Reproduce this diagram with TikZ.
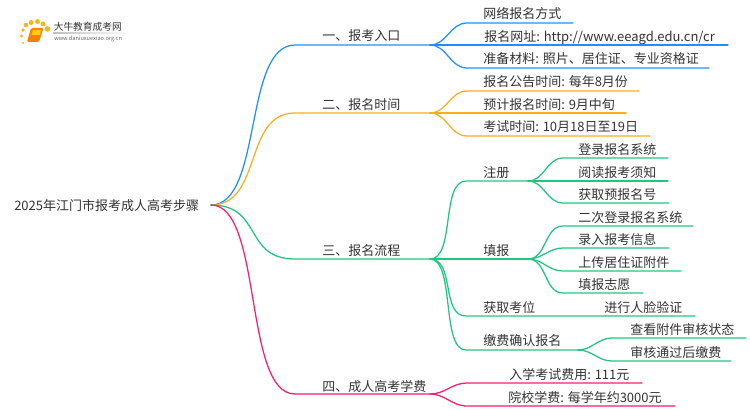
\documentclass[tikz,border=0pt]{standalone}
\usepackage{fontspec}
\setmainfont{Noto Sans CJK SC}
\definecolor{branchA}{HTML}{1E90FF}
\definecolor{branchB}{HTML}{F9AE1C}
\definecolor{branchC}{HTML}{1FC77F}
\definecolor{branchD}{HTML}{FB1C74}
\definecolor{inktext}{HTML}{333333}
\tikzset{
  label/.style={inner sep=0pt,anchor=base west,text=inktext,font=\fontsize{9.75pt}{9.75pt}\selectfont},
  link/.style={line width=0.95pt,line cap=round},
  swing/.style={out=0,in=180,distance=39pt},
  drop/.style={out=0,in=180,distance=19pt},
}
\begin{document}
\begin{tikzpicture}[x=0.75pt,y=-0.75pt]
  \useasboundingbox (0,0) rectangle (750,410);
  % logo
  \foreach \px/\py/\pr in {23/43/1.2,21.5/36/1.6,23/30/1.9,26/25/2.3,31/22.5/2.5,37.5/21.5/2.5,43/24/2.5,47.5/29/2.8}
    \fill[branchB!90!yellow] (\px,\py) circle (\pr);
  \fill[orange,rounded corners=1pt] (31,28) -- (43.5,28) -- (39,42) -- (27,42) -- cycle;
  \fill[branchB!60!yellow] (33,30) -- (41,30) -- (40,35) -- (31.5,35) -- cycle;
  \node[inner sep=0pt,anchor=base west,font=\fontsize{7.3pt}{7.3pt}\selectfont,text=inktext] (logotext) at (53.5,31) {大牛教育成考网};
  \shade[left color=black!25,right color=white] (53,33) rectangle (132,33.8);
  \node[inner sep=0pt,anchor=base west,font=\fontsize{4.2pt}{4.2pt}\selectfont,text=black!60] (logourl) at (54,41) {www.daniuxuexiao.org.cn};

  % text
  \node[label] (root) at (14,210) {2025年江门市报考成人高考步骤};
  \node[label] (A) at (322,41) {一、报考入口};
  \node[label] (B) at (322,109) {二、报名时间};
  \node[label] (C) at (322,255) {三、报名流程};
  \node[label] (D) at (322,391) {四、成人高考学费};
  \node[label] (A1) at (483,19) {网络报名方式};
  \node[label] (A2) at (484,42) {报名网址: http://www.eeagd.edu.cn/cr};
  \node[label] (A3) at (483,64) {准备材料: 照片、居住证、专业资格证};
  \node[label] (B1) at (483,87) {报名公告时间: 每年8月份};
  \node[label] (B2) at (483,109) {预计报名时间: 9月中旬};
  \node[label] (B3) at (483,132) {考试时间: 10月18日至19日};
  \node[label] (C1) at (483,177) {注册};
  \node[label] (C2) at (483,255) {填报};
  \node[label] (C3) at (483,312) {获取考位};
  \node[label] (C4) at (483,345) {缴费确认报名};
  \node[label] (C11) at (578,154) {登录报名系统};
  \node[label] (C12) at (578,177) {阅读报考须知};
  \node[label] (C13) at (578,199) {获取预报名号};
  \node[label] (C21) at (578,222) {二次登录报名系统};
  \node[label] (C22) at (578,244) {录入报考信息};
  \node[label] (C23) at (578,267) {上传居住证附件};
  \node[label] (C24) at (578,289) {填报志愿};
  \node[label] (C31) at (604,312) {进行人脸验证};
  \node[label] (C41) at (630,334) {查看附件审核状态};
  \node[label] (C42) at (630,357) {审核通过后缴费};
  \node[label] (D1) at (509,379) {入学考试费用: 111元};
  \node[label] (D2) at (508,402) {院校学费: 每学年约3000元};

  % joints
  \coordinate (hub) at (211,205);
  \coordinate (Aa) at (295,45);  \coordinate (Ab) at (430,45);
  \coordinate (Ba) at (295,113); \coordinate (Bb) at (430,113);
  \coordinate (Ca) at (295,259); \coordinate (Cb) at (430,259);
  \coordinate (Da) at (295,394); \coordinate (Db) at (430,394);

  % first level
  \draw[link,branchA] (hub) to[swing] (Aa) -- (Ab);
  \draw[link,branchB] (hub) to[swing] (Ba) -- (Bb);
  \draw[link,branchC] (hub) to[swing] (Ca) -- (Cb);
  \draw[link,branchD] (hub) to[swing] (Da) -- (Db);

  % blue
  \draw[link,branchA] (Ab) to[out=0,in=180] (467,23) coordinate (A1a) -- (573,23) coordinate (A1b);
  \draw[link,branchA] (Ab) -- (728,45) coordinate (A2b);
  \draw[link,branchA] (Ab) to[out=0,in=180] (467,68) coordinate (A3a) -- (709,68) coordinate (A3b);

  % orange
  \draw[link,branchB] (Bb) to[out=0,in=180] (467,91) coordinate (B1a) -- (639,91) coordinate (B1b);
  \draw[link,branchB] (Bb) -- (626,113) coordinate (B2b);
  \draw[link,branchB] (Bb) to[out=0,in=180] (467,136) coordinate (B3a) -- (650,136) coordinate (B3b);

  % green
  \coordinate (C1b) at (528,181);
  \coordinate (C2b) at (528,259);
  \coordinate (C4b) at (578,350);
  \draw[link,branchC] (Cb) to[drop] (466,181) coordinate (C1a) -- (C1b);
  \draw[link,branchC] (Cb) -- (C2b);
  \draw[link,branchC] (Cb) to[drop] (466,316) coordinate (C3a) -- (695,316) coordinate (C3b);
  \draw[link,branchC] (Cb) to[drop] (466,350) coordinate (C4a) -- (C4b);
  \draw[link,branchC] (C1b) to[out=0,in=180] (563,158) coordinate (C11a) -- (668,158) coordinate (C11b);
  \draw[link,branchC] (C1b) -- (668,181) coordinate (C12b);
  \draw[link,branchC] (C1b) to[out=0,in=180] (563,203) coordinate (C13a) -- (669,203) coordinate (C13b);
  \draw[link,branchC] (C2b) to[out=0,in=180] (563,226) coordinate (C21a) -- (693,226) coordinate (C21b);
  \draw[link,branchC] (C2b) to[out=0,in=180] (563,248) coordinate (C22a) -- (669,248) coordinate (C22b);
  \draw[link,branchC] (C2b) to[out=0,in=180] (563,271) coordinate (C23a) -- (681,271) coordinate (C23b);
  \draw[link,branchC] (C2b) to[out=0,in=180] (563,293) coordinate (C24a) -- (643,293) coordinate (C24b);
  \draw[link,branchC] (C4b) to[out=0,in=180] (612,338) coordinate (C41a) -- (746,338) coordinate (C41b);
  \draw[link,branchC] (C4b) to[out=0,in=180] (612,361) coordinate (C42a) -- (731,361) coordinate (C42b);

  % pink
  \draw[link,branchD] (Db) to[out=0,in=180] (467,383) coordinate (D1a) -- (642,383) coordinate (D1b);
  \draw[link,branchD] (Db) to[out=0,in=180] (467,406) coordinate (D2a) -- (675,406) coordinate (D2b);
\end{tikzpicture}
\end{document}
